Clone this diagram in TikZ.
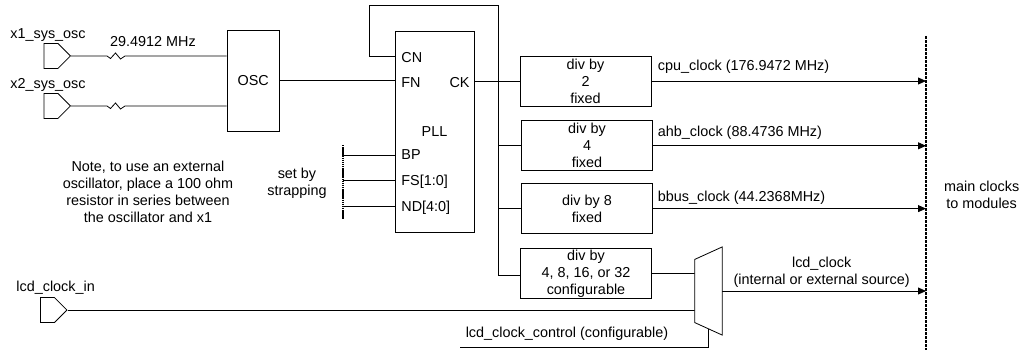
\documentclass[tikz,border=0pt]{standalone}
\usepackage{fontspec}
\setmainfont{Liberation Sans}
\usetikzlibrary{shapes.geometric, shapes.symbols, arrows.meta, positioning}

\begin{document}
\begin{tikzpicture}[
  x=1pt, y=-1pt,
  every node/.style={font=\fontsize{14.4}{17}\selectfont},
  line width=0.8pt,
  block/.style={rectangle, draw, align=center, inner sep=0pt},
  divbox/.style={block, minimum width=131pt, minimum height=50pt},
  port/.style={signal, signal to=east, signal pointer angle=90, draw, anchor=east, inner ysep=0pt, inner xsep=7pt, minimum height=25pt},
  label/.style={align=center, inner sep=0pt},
  bus/.style={line width=1.9pt, dash pattern=on 3pt off 1pt},
  >={Triangle[length=8pt,width=7pt]}
]
\useasboundingbox (0,0) rectangle (1021,350);

% Nodes
\node[port] (x1) at (71,56) {};
\node[port] (x2) at (71,106) {};
\node[port] (lcdin) at (67.5,310) {};
\node[block, minimum width=52.5pt, minimum height=100.5pt] (osc) at (253.2,80.7) {OSC};
\node[block, minimum width=79pt, minimum height=201pt] (pll) at (434.5,131.5) {PLL};
\node[divbox] (divcpu) at (585.5,81) {div by\\2\\fixed};
\node[divbox, below=14pt of divcpu, xshift=1.5pt] (divahb) {div by\\4\\fixed};
\node[divbox, below=12pt of divahb] (divbbus) {div by 8\\fixed};
\node[divbox, below=14pt of divbbus, xshift=-1pt] (divlcd) {div by\\4, 8, 16, or 32\\configurable};
\node[inner sep=0pt, minimum width=26.7pt, minimum height=62.3pt] (mux) at (708.4,291) {};

% Port labels
\node[label, anchor=west] (cn) at (401,57.5) {CN};
\node[label, anchor=west] (fn) at (401,82.5) {FN};
\node[label, anchor=east] (ck) at (470,82.5) {CK};
\node[label, anchor=west] (bp) at (401,155) {BP};
\node[label, anchor=west] (fs) at (401,181.5) {FS[1:0]};
\node[label, anchor=west] (nd) at (401,207.5) {ND[4:0]};

% Labels
\node[label, anchor=west] (x1name) at (10,35) {x1\_sys\_osc};
\node[label, anchor=west] (x2name) at (10,85) {x2\_sys\_osc};
\node[label] (freq) at (153,42) {29.4912 MHz};
\node[label] (note) at (148,191.5) {Note, to use an external\\oscillator, place a 100 ohm\\resistor in series between\\the oscillator and x1};
\node[label] (strap) at (297,183) {set by\\strapping};
\node[label, anchor=west] (lcdname) at (16,287.5) {lcd\_clock\_in};
\node[label] (ctlname) at (567,334) {lcd\_clock\_control (configurable)};
\node[label, anchor=west] (cpuname) at (657.5,67) {cpu\_clock (176.9472 MHz)};
\node[label, anchor=west] (ahbname) at (657.5,133) {ahb\_clock (88.4736 MHz)};
\node[label, anchor=west] (bbusname) at (657.5,198) {bbus\_clock (44.2368MHz)};
\node[label] (lcdout) at (821.7,272) {lcd\_clock\\(internal or external source)};
\node[label] (modules) at (981.7,194.5) {main clocks\\to modules};

% Free ends
\coordinate (bustop) at (926,36);
\coordinate (busbot) at (926,350);
\coordinate (straptop) at (343,145);
\coordinate (strapbot) at (343,219);
\coordinate (fbleft) at (369,5.5);
\coordinate (fbright) at (498,5.5);
\coordinate (ctlstart) at (460,347.7);
\coordinate (r1) at (107,56);
\coordinate (r2) at (107,106);

% Buses
\draw[bus] (bustop) -- (busbot);
\draw[line width=1.2pt, dash pattern=on 1.5pt off 0.6pt] (straptop) -- (strapbot);

% Arrows
\draw (x1.east) -- (r1) -- ++(3.5,2.5) -- ++(5,-5.5) -- ++(5,6) -- ++(4.5,-3) -- (r1 -| osc.west);
\draw (x2.east) -- (r2) -- ++(3.5,2.5) -- ++(5,-5.5) -- ++(5,6) -- ++(4.5,-3) -- (r2 -| osc.west);
\draw (osc.east) -- (osc.east -| pll.west);
\draw (pll.west |- 0,56) -| (fbleft) -- (fbright) |- (divlcd.west |- 0,275);
\draw (pll.east |- divcpu.west) -- (divcpu.west);
\draw (fbright |- divahb.west) -- (divahb.west);
\draw (fbright |- divbbus.west) -- (divbbus.west);
\draw (straptop |- bp) -- (pll.west |- bp);
\draw (straptop |- 0,180) -- (pll.west |- 0,180);
\draw (straptop |- 0,206) -- (pll.west |- 0,206);
\draw[->] (divcpu.east) -- (divcpu.east -| bustop);
\draw[->] (divahb.east) -- (divahb.east -| bustop);
\draw[->] (divbbus.east) -- (divbbus.east -| bustop);
\draw (divlcd.east) -- (divlcd.east -| mux.west);
\draw (lcdin.east) -- (lcdin.east -| mux.west);
\draw[->] (mux.east) -- (mux.east -| bustop);
\draw (ctlstart) -| (mux.south);

% Mux body
\draw[fill=white] (mux.north west) -- ([yshift=12.5pt]mux.north east) -- ([yshift=-12.5pt]mux.south east) -- (mux.south west) -- cycle;

\end{tikzpicture}
\end{document}
